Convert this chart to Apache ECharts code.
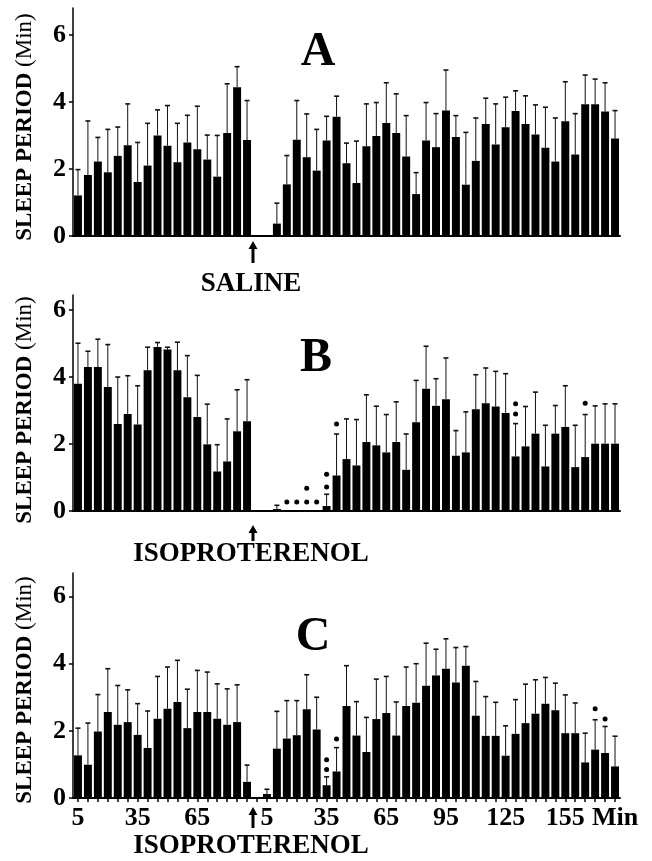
<!DOCTYPE html>
<html>
<head>
<meta charset="utf-8">
<script src="https://cdn.jsdelivr.net/npm/echarts@6/dist/echarts.min.js"></script>
<style>
html,body{margin:0;padding:0;background:#fff;}
#chart{width:652px;height:861px;}
</style>
</head>
<body>
<div id="chart"></div>
<script>
// ---- time categories (minutes before / after injection) ----
const preTimes = [5,10,15,20,25,30,35,40,45,50,55,60,65,70,75,80,85,90];
const postTimes = [5,10,15,20,25,30,35,40,45,50,55,60,65,70,75,80,85,90,95,100,105,110,115,120,125,130,135,140,145,150,155,160,165,170,175,180];

// ---- tick labels shown on panel C ----
const cLabelCats = ['pre5','pre35','pre65','post5','post35','post65','post95','post125','post155','post180'];
const cLabelText = ['5','35','65','5','35','65','95','125','155','Min'];

// ---- Panel A (saline) ----
const aPreMean = [1.21,1.82,2.22,1.90,2.39,2.71,1.61,2.10,3.00,2.69,2.20,2.79,2.59,2.28,1.77,3.07,4.44,2.86];
const aPreErr  = [0.77,1.61,0.72,1.28,0.86,1.23,1.18,1.26,0.76,1.20,1.16,0.81,1.28,0.73,1.23,1.47,0.61,1.18];
const aPostMean = [0,0.37,1.54,2.87,2.35,1.95,2.85,3.56,2.17,1.58,2.68,2.98,3.37,3.07,2.37,1.25,2.85,2.65,3.74,2.95,1.53,2.24,3.34,2.73,3.24,3.73,3.34,3.03,2.63,2.22,3.42,2.43,3.93,3.93,3.71,2.91];
const aPostErr  = [0,0.61,0.86,1.17,1.29,1.23,0.72,0.61,0.60,1.25,1.26,1.00,1.20,1.17,1.22,0.64,1.13,1.00,1.21,0.64,1.56,1.28,0.77,1.21,0.90,0.60,0.84,0.88,1.21,1.30,1.18,1.22,0.87,0.75,0.86,0.83];

// ---- Panel B (isoproterenol) ----
const bPreMean = [3.80,4.30,4.30,3.70,2.60,2.90,2.58,4.20,4.90,4.82,4.20,3.40,2.81,1.99,1.18,1.48,2.38,2.68];
const bPreErr  = [1.21,0.47,0.83,1.27,1.40,1.14,1.16,0.69,0.13,0.07,0.84,1.24,1.24,1.20,0.80,1.27,1.24,1.24];
const bPostMean = [0,0.06,0,0,0,0,0.15,1.06,1.55,1.36,2.06,1.96,1.75,2.06,1.23,2.65,3.65,3.14,3.34,1.65,1.75,3.04,3.22,3.12,2.93,1.63,1.93,2.31,1.33,2.31,2.51,1.31,1.61,2.01,2.01,2.01];
const bPostErr  = [0,0.11,0,0,0,0,0.35,1.24,1.20,1.37,1.41,1.17,1.13,1.20,1.07,1.25,1.27,0.81,1.23,0.75,1.21,1.03,1.05,1.05,1.17,0.98,1.19,1.24,1.23,0.84,1.23,1.25,1.27,1.13,1.19,1.19];
const bDotCats = ['post15','post20','post25','post25','post30','post35','post35','post40','post130','post130','post165'];
const bDotVals = [0.27,0.27,0.27,0.68,0.27,0.72,1.10,2.60,2.90,3.20,3.22];

// ---- Panel C (isoproterenol) ----
const cPreMean = [1.27,0.99,1.98,2.56,2.18,2.26,1.88,1.49,2.36,2.66,2.86,2.08,2.56,2.56,2.36,2.18,2.26,0.48];
const cPreErr  = [0.81,1.24,1.10,1.29,1.17,0.96,0.93,1.10,1.26,1.24,1.24,1.16,1.24,1.19,1.04,1.07,1.11,0.50];
const cPostMean = [0.12,1.47,1.77,1.87,2.64,2.04,0.38,0.79,2.74,1.86,1.37,2.35,2.53,1.86,2.74,2.84,3.34,3.65,3.85,3.44,3.94,2.45,1.85,1.85,1.26,1.91,2.23,2.51,2.81,2.61,1.93,1.93,1.06,1.44,1.34,0.94];
const cPostErr  = [0.14,1.11,1.13,1.03,1.03,0.96,0.25,0.71,1.20,1.01,1.03,1.19,1.09,1.00,1.16,1.16,1.27,0.78,0.89,1.04,0.57,1.02,1.17,1.00,0.89,1.02,1.16,1.01,0.78,0.81,1.14,0.90,0.87,0.89,0.79,0.90];
const cDotCats = ['post35','post35','post40','post170','post175'];
const cDotVals = [0.85,1.14,1.76,2.66,2.35];

// ---- build ----
const categories = [].concat(preTimes.map(t => 'pre' + t), ['injection'], postTimes.map(t => 'post' + t));
function joinVals(pre, post) { return [].concat(pre, [null], post); }

const SERIF = '"Liberation Serif", "Times New Roman", serif';
const grids = [
  {left: 73, width: 547, top: 8, height: 228, max: 6.8},
  {left: 73, width: 547, top: 295, height: 216, max: 6.45},
  {left: 73, width: 547, top: 573, height: 225, max: 6.7}
];
const panels = [
  {mean: joinVals(aPreMean, aPostMean), err: joinVals(aPreErr, aPostErr), dotCats: [], dotVals: []},
  {mean: joinVals(bPreMean, bPostMean), err: joinVals(bPreErr, bPostErr), dotCats: bDotCats, dotVals: bDotVals},
  {mean: joinVals(cPreMean, cPostMean), err: joinVals(cPreErr, cPostErr), dotCats: cDotCats, dotVals: cDotVals}
];

function renderErr(params, api) {
  const m = api.value(1), e = api.value(2);
  if (m == null || isNaN(m) || !e) return null;
  const x = api.value(0);
  const p0 = api.coord([x, m]);
  const p1 = api.coord([x, m + e]);
  const w = 2.5;
  return {type: 'group', children: [
    {type: 'line', shape: {x1: p0[0], y1: p0[1], x2: p1[0], y2: p1[1]}, style: {stroke: '#111', lineWidth: 1}},
    {type: 'line', shape: {x1: p1[0] - w, y1: p1[1], x2: p1[0] + w, y2: p1[1]}, style: {stroke: '#111', lineWidth: 1.6}}
  ]};
}

const option = {
  backgroundColor: '#fff',
  animation: false,
  grid: grids.map(g => ({left: g.left, width: g.width, top: g.top, height: g.height})),
  xAxis: grids.map((g, i) => ({
    type: 'category', gridIndex: i, data: categories,
    axisLine: {show: true, lineStyle: {color: '#000', width: 2}},
    axisTick: {show: i === 2, alignWithLabel: true, interval: 0, length: 4, lineStyle: {color: '#000', width: 1.5}},
    axisLabel: {
      show: i === 2, interval: 0, margin: 7, color: '#000',
      fontFamily: SERIF, fontWeight: 'bold', fontSize: 26,
      formatter: v => { const k = cLabelCats.indexOf(v); return k >= 0 ? cLabelText[k] : ''; }
    },
    splitLine: {show: false}
  })),
  yAxis: grids.map((g, i) => ({
    type: 'value', gridIndex: i, min: 0, max: g.max, interval: 2,
    axisLine: {show: true, lineStyle: {color: '#000', width: 1.5}},
    axisTick: {show: true, length: 4, lineStyle: {color: '#000', width: 1.5}},
    axisLabel: {color: '#000', fontFamily: SERIF, fontWeight: 'bold', fontSize: 26, margin: 7, showMaxLabel: false},
    splitLine: {show: false}
  })),
  series: []
};

panels.forEach((p, i) => {
  option.series.push({
    type: 'bar', xAxisIndex: i, yAxisIndex: i, data: p.mean,
    barCategoryGap: '20%', itemStyle: {color: '#000'}, z: 2
  });
  option.series.push({
    type: 'custom', xAxisIndex: i, yAxisIndex: i, renderItem: renderErr,
    encode: {x: 0, y: 1},
    data: p.mean.map((m, k) => [k, m == null ? NaN : m, p.err[k] == null ? 0 : p.err[k]]),
    z: 3
  });
  if (p.dotCats.length) {
    option.series.push({
      type: 'scatter', xAxisIndex: i, yAxisIndex: i, symbol: 'circle', symbolSize: 5,
      itemStyle: {color: '#000', opacity: 1},
      data: p.dotCats.map((c, k) => [c, p.dotVals[k]]), z: 4
    });
  }
});

const chart = echarts.init(document.getElementById('chart'), null, {renderer: 'canvas'});
chart.setOption(option);

// ---- annotations ----
function arrow(x, yTip, yEnd) {
  return {type: 'group', children: [
    {type: 'polygon', shape: {points: [[x, yTip], [x - 4.5, yTip + 8], [x + 4.5, yTip + 8]]}, style: {fill: '#000'}},
    {type: 'rect', shape: {x: x - 1.5, y: yTip + 6, width: 3, height: yEnd - yTip - 6}, style: {fill: '#000'}}
  ]};
}
function txt(x, y, text, size, extra) {
  return Object.assign({type: 'text', x: x, y: y, style: {
    text: text, fill: '#000', font: 'bold ' + size + 'px ' + SERIF, align: 'center', verticalAlign: 'middle'
  }}, extra || {});
}
function yName(x, y) {
  return {type: 'text', x: x, y: y, rotation: Math.PI / 2, style: {
    text: '{b|SLEEP PERIOD }{n|(Min)}', align: 'center', verticalAlign: 'middle',
    rich: {
      b: {font: 'bold 23px ' + SERIF, fill: '#000'},
      n: {font: 'normal 23px ' + SERIF, fill: '#000'}
    }
  }};
}
const ax = [0, 1, 2].map(i => chart.convertToPixel({xAxisIndex: i}, 'injection') - 4);
chart.setOption({graphic: [
  txt(318, 53, 'A', 48), txt(316, 359, 'B', 48), txt(313, 638, 'C', 48),
  arrow(ax[0], 241, 263), arrow(ax[1], 525, 541), arrow(ax[2], 807, 828),
  txt(251, 284, 'SALINE', 27), txt(251, 554, 'ISOPROTERENOL', 27), txt(251, 846, 'ISOPROTERENOL', 27),
  yName(25, 127), yName(25, 410), yName(25, 690)
]});
</script>
</body>
</html>
